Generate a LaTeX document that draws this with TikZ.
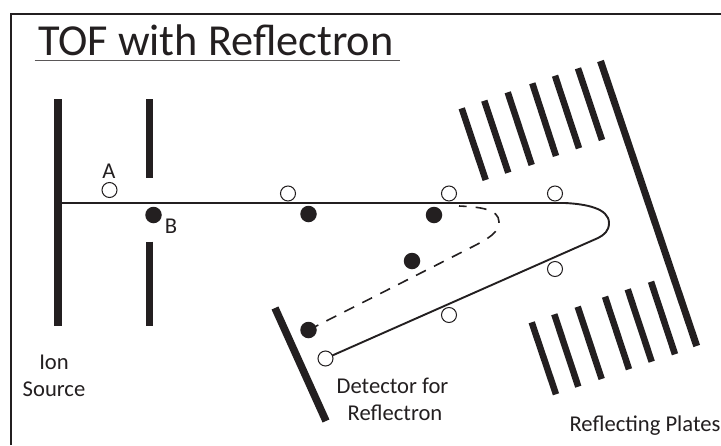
\documentclass[tikz,border=0pt]{standalone}
\usepackage{fontspec}
\setmainfont{Carlito}
\definecolor{ink}{HTML}{231F20}
\tikzset{
  frameline/.style={draw=ink,line width=1.8pt},
  plate/.style={draw=ink,line width=6.5pt},
  path line/.style={draw=ink,line width=1.9pt},
  dashpath/.style={draw=ink,line width=1.6pt,dash pattern=on 11pt off 9.1pt},
  ionA/.style={circle,draw=ink,fill=white,line width=1pt,minimum size=15pt,inner sep=0pt},
  ionB/.style={circle,fill=ink,minimum size=16.5pt,inner sep=0pt},
  lab/.style={text=ink,font=\fontsize{22.6}{27}\selectfont,anchor=base,inner sep=0pt},
  titlelab/.style={text=ink,font=\fontsize{44.3}{50}\selectfont,anchor=base west,inner sep=0pt}
}
\begin{document}
\begin{tikzpicture}[x=1pt,y=-1pt]
\useasboundingbox (0,0) rectangle (721,445);
\fill[white] (0,0) rectangle (721,445);
% frame
\coordinate (fbl) at (10.8,445);
\coordinate (ftl) at (10.8,14.3);
\coordinate (ftr) at (721,14.3);
\draw[frameline] (fbl) -- (ftl) -- (ftr);
% title
\node[titlelab] (title) at (38,55) {TOF with Reflectron};
\coordinate (ul1) at (34.5,60.5);
\coordinate (ul2) at (400,60.5);
\draw[draw=ink!75,line width=1.5pt] (ul1) -- (ul2);
% source and slit
\coordinate (s1) at (58,99); \coordinate (s2) at (58,325.5);
\draw[plate,line width=8.5pt] (s1) -- (s2);
\coordinate (g1) at (149.5,99); \coordinate (g2) at (149.5,178);
\coordinate (g3) at (149.5,241.5); \coordinate (g4) at (149.5,325.5);
\draw[plate,line width=7.5pt] (g1) -- (g2);
\draw[plate,line width=7.5pt] (g3) -- (g4);
% plates
\foreach \a/\b/\c/\d/\n in {
 461.7/108.3/485.7/180/u1, 484.3/100.7/508.3/172.7/u2, 507.7/92.3/531.7/165/u3,
 532.3/83.3/556/156/u4, 555/75.7/579/148.3/u5, 578/68.3/602/140/u6,
 531.7/322.3/556/394.3/l1, 554.3/314.3/578.3/386.7/l2, 577.7/306.7/601.7/379/l3,
 605/296.7/629/369.3/l4, 627.7/289.3/651.7/361.7/l5, 651/281.7/675/354.3/l6}{
  \coordinate (\n a) at (\a,\b); \coordinate (\n b) at (\c,\d);
  \draw[plate] (\n a) -- (\n b);
}
% long plate
\coordinate (r1) at (600.5,61); \coordinate (r2) at (696.7,346);
\draw[plate,line width=7pt] (r1) -- (r2);
% detector
\coordinate (d1) at (275,308); \coordinate (d2) at (326,421);
\draw[plate,line width=7.5pt] (d1) -- (d2);
% trajectories
\coordinate (start) at (62,203);
\coordinate (dstart) at (459,206);
\coordinate (ion6) at (325.5,358.5);
\coordinate (ion4) at (308.5,330);
\draw[path line] (start) -- (565,203) .. controls (585,204) and (609,208) .. (609,223) .. controls (609,231) and (604,235) .. (598,238) -- (ion6);
\draw[dashpath] (ion4) -- (470,248) .. controls (490,238) and (499,232) .. (499,222) .. controls (499,209) and (480,207) .. (dstart);
% ions
\node[ionA] (a0) at (109.5,190) {};
\node[ionA] (a1) at (288,193.5) {};
\node[ionA] (a2) at (449,193.5) {};
\node[ionA] (a3) at (555,193.5) {};
\node[ionA] (a4) at (555,269) {};
\node[ionA] (a5) at (449,315) {};
\node[ionA] (a6) at (ion6) {};
\node[ionB] (b0) at (153.5,215) {};
\node[ionB] (b1) at (308.5,214) {};
\node[ionB] (b2) at (434,215) {};
\node[ionB] (b3) at (412,261) {};
\node[ionB] (b4) at (ion4) {};
% labels
\node[lab] (la) at (109,178) {A};
\node[lab] (lb) at (171,233) {B};
\node[lab] (ls1) at (54,369) {Ion};
\node[lab] (ls2) at (54,396) {Source};
\node[lab] (ld1) at (392.5,393) {Detector for};
\node[lab] (ld2) at (395,420) {Reflectron};
\node[lab] (lr) at (645,431.7) {Reflecting Plates};
\end{tikzpicture}
\end{document}
